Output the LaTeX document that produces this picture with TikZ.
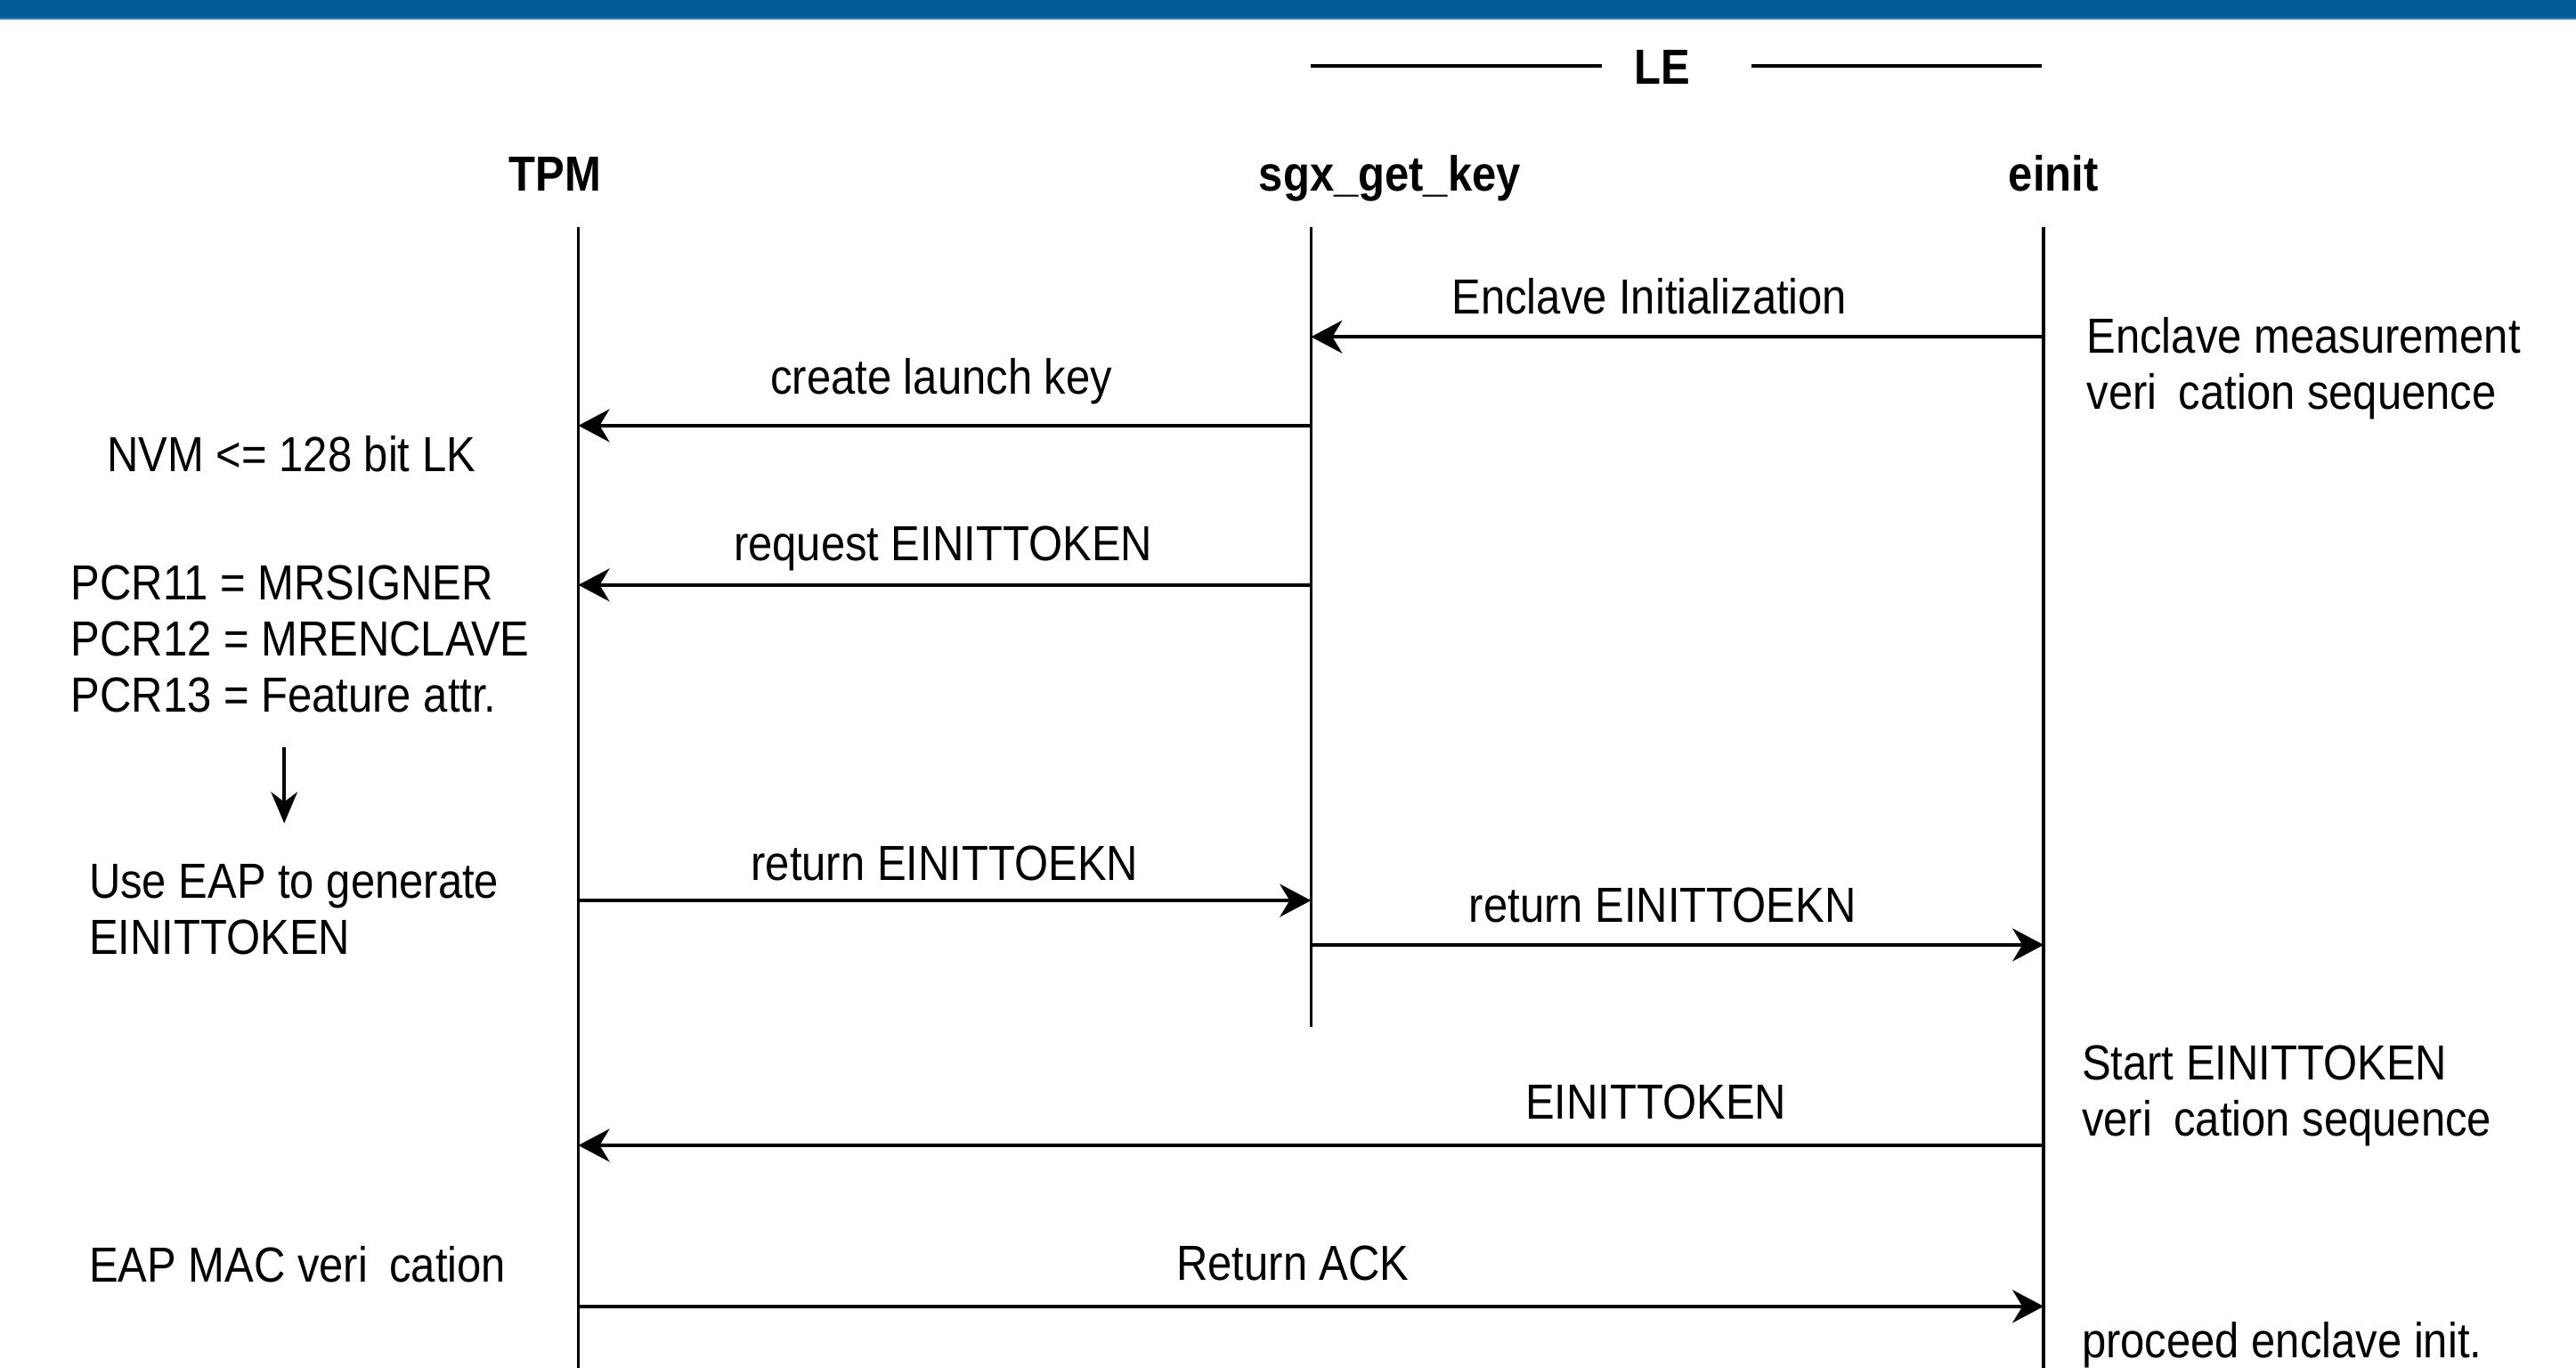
\documentclass[tikz,border=0pt]{standalone}
\usepackage{fontspec}
\setmainfont{Liberation Sans}[FakeStretch=0.885]
\usetikzlibrary{arrows.meta}
\definecolor{barblue}{RGB}{2,91,150}
\definecolor{barline}{RGB}{60,130,185}
\tikzset{
  txt/.style={inner sep=0pt, font=\fontsize{30}{34}\selectfont, anchor=base},
  ltxt/.style={txt, anchor=base west, align=left},
  head/.style={txt, font=\fontsize{30}{34}\selectfont\bfseries},
  life/.style={line width=2pt},
  msg/.style={line width=2pt, -{Stealth[length=19pt, width=20pt, inset=6pt]}},
  bracket/.style={line width=2pt}
}
\begin{document}
\begin{tikzpicture}[x=1pt, y=-1pt]
\useasboundingbox (0,0) rectangle (1568,832.5);
% top bar
\fill[barblue] (0,0) rectangle (1568,11.2);
\draw[barline, line width=1pt] (0,11.6) -- (1568,11.6);

% LE header
\node[head] (le) at (1012,51) {LE};
\coordinate (leL1) at (798,40);
\coordinate (leL2) at (975,40);
\coordinate (leR1) at (1066,40);
\coordinate (leR2) at (1243,40);
\draw[bracket] (leL1) -- (leL2);
\draw[bracket] (leR1) -- (leR2);

% participants
\node[head] (tpm) at (338,116) {TPM};
\node[head] (sgx) at (846,116) {sgx\_get\_key};
\node[head] (ein) at (1250,116) {einit};

% lifelines
\coordinate (tpmT) at (352,138);
\coordinate (tpmB) at (352,833);
\coordinate (sgxT) at (798,138);
\coordinate (sgxB) at (798,625);
\coordinate (einT) at (1244,138);
\coordinate (einB) at (1244,833);
\draw[life] (tpmT) -- (tpmB);
\draw[life] (sgxT) -- (sgxB);
\draw[life] (einT) -- (einB);

% message anchor points
\coordinate (e1) at (1244,205); \coordinate (s1) at (798,205);
\coordinate (s2) at (798,259);  \coordinate (t2) at (352,259);
\coordinate (s3) at (798,356);  \coordinate (t3) at (352,356);
\coordinate (t4) at (352,548);  \coordinate (s4) at (798,548);
\coordinate (s5) at (798,575);  \coordinate (e5) at (1244,575);
\coordinate (e6) at (1244,697); \coordinate (t6) at (352,697);
\coordinate (t7) at (352,795);  \coordinate (e7) at (1244,795);

\draw[msg] (e1) -- (s1);
\draw[msg] (s2) -- (t2);
\draw[msg] (s3) -- (t3);
\draw[msg] (t4) -- (s4);
\draw[msg] (s5) -- (e5);
\draw[msg] (e6) -- (t6);
\draw[msg] (t7) -- (e7);

% message labels
\node[txt] (m1) at (1004,191) {Enclave Initialization};
\node[txt] (m2) at (573,240) {create launch key};
\node[txt] (m3) at (574,341) {request EINITTOKEN};
\node[txt] (m4) at (575,536) {return EINITTOEKN};
\node[txt] (m5) at (1012,561) {return EINITTOEKN};
\node[txt] (m6) at (1008,681) {EINITTOKEN};
\node[txt] (m7) at (787,779) {Return ACK};

% left notes
\node[ltxt] (nvm) at (65,287) {NVM <= 128 bit LK};
\node[ltxt, anchor=north west] (pcr) at (43,344) {PCR11 = MRSIGNER\\PCR12 = MRENCLAVE\\PCR13 = Feature attr.};
\node[ltxt, anchor=north west] (eap) at (54,526) {Use EAP to generate\\EINITTOKEN};
\node[ltxt] (mac) at (54,780) {EAP MAC veri\hphantom{fi}cation};
\coordinate (dA) at (173,455);
\coordinate (dB) at (173,501);
\draw[line width=2pt, -{Stealth[length=19pt, width=16pt, inset=6pt]}] (dA) -- (dB);

% right notes
\node[ltxt, anchor=north west] (emv) at (1270,193) {Enclave measurement\\veri\hphantom{fi}cation sequence};
\node[ltxt, anchor=north west] (stv) at (1267,636) {Start EINITTOKEN\\veri\hphantom{fi}cation sequence};
\node[ltxt] (pei) at (1267,826) {proceed enclave init.};
\end{tikzpicture}
\end{document}
